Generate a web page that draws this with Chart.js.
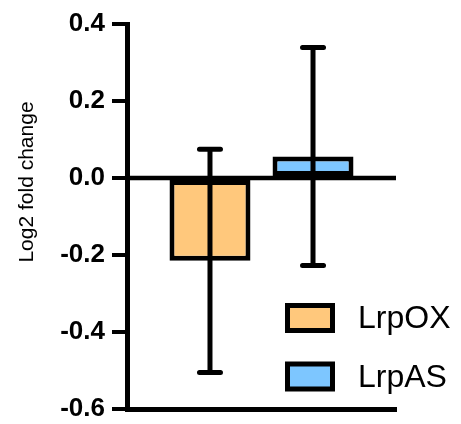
<!DOCTYPE html>
<html>
<head>
<meta charset="utf-8">
<script src="https://cdn.jsdelivr.net/npm/chart.js@4/dist/chart.umd.min.js"></script>
<style>
  html, body { margin: 0; padding: 0; background: #ffffff; }
  #wrap { width: 461px; height: 424px; }
</style>
</head>
<body>
<div id="wrap"><canvas id="c" width="461" height="424"></canvas></div>
<script>
// Groups, their mean log2 fold change and error (± SD)
const groups = ['LrpOX', 'LrpAS'];
const means = [-0.215, 0.056];
const errors = [0.29, 0.283];
const fills = ['#FFC87C', '#7DC6FF'];
const yTicks = [-0.6, -0.4, -0.2, 0.0, 0.2, 0.4];
const yTitle = 'Log2 fold change';

const FONT = '"Liberation Sans", Arial, Helvetica, sans-serif';

// Error bars, zero line, y title and legend drawn on top of the bars
const overlay = {
  id: 'overlay',
  afterDatasetsDraw(chart) {
    const { ctx, chartArea, scales: { y } } = chart;
    ctx.save();
    // zero line
    const y0 = y.getPixelForValue(0);
    ctx.strokeStyle = '#000';
    ctx.lineWidth = 4.5;
    ctx.lineCap = 'butt';
    ctx.beginPath();
    ctx.moveTo(chartArea.left, y0);
    ctx.lineTo(chartArea.right, y0);
    ctx.stroke();

    // error bars
    chart.data.datasets.forEach((ds, i) => {
      const bar = chart.getDatasetMeta(i).data[0];
      const x = bar.x;
      const hi = y.getPixelForValue(means[i] + errors[i]);
      const lo = y.getPixelForValue(means[i] - errors[i]);
      ctx.lineWidth = 5;
      ctx.lineCap = 'butt';
      ctx.beginPath();
      ctx.moveTo(x, hi);
      ctx.lineTo(x, lo);
      ctx.stroke();
      ctx.lineCap = 'round';
      const half = 10.5;
      ctx.beginPath();
      ctx.moveTo(x - half, hi); ctx.lineTo(x + half, hi);
      ctx.moveTo(x - half, lo); ctx.lineTo(x + half, lo);
      ctx.stroke();
    });
    ctx.restore();
  },
  afterDraw(chart) {
    const { ctx } = chart;
    ctx.save();
    // y axis title
    ctx.fillStyle = '#000';
    ctx.font = '21px ' + FONT;
    ctx.textAlign = 'center';
    ctx.textBaseline = 'middle';
    ctx.translate(27, 182);
    ctx.rotate(-Math.PI / 2);
    ctx.fillText(yTitle, 0, 0);
    ctx.restore();

    // legend
    ctx.save();
    chart.data.datasets.forEach((ds, i) => {
      const top = 303 + i * 58.5;
      const bw = 5;
      ctx.fillStyle = '#000';
      ctx.fillRect(285, top, 50, 30);
      ctx.fillStyle = ds.backgroundColor;
      ctx.fillRect(285 + bw, top + bw, 50 - 2 * bw, 30 - 2 * bw);
      ctx.fillStyle = '#000';
      ctx.font = '32px ' + FONT;
      ctx.textAlign = 'left';
      ctx.textBaseline = 'alphabetic';
      ctx.fillText(ds.label, 358, top + 25);
    });
    ctx.restore();
  }
};

new Chart(document.getElementById('c'), {
  type: 'bar',
  data: {
    labels: [''],
    datasets: groups.map((g, i) => ({
      label: g,
      data: [means[i]],
      backgroundColor: fills[i],
      borderColor: '#000',
      borderWidth: 5,
      borderSkipped: false,
      categoryPercentage: 0.766,
      barPercentage: 0.786
    }))
  },
  options: {
    responsive: false,
    animation: false,
    devicePixelRatio: 1,
    layout: { padding: { top: 24, right: 65, left: 0, bottom: 0 } },
    plugins: {
      legend: { display: false },
      tooltip: { enabled: false }
    },
    scales: {
      x: {
        grid: { display: false },
        ticks: { display: false },
        border: { display: true, color: '#000', width: 5 },
        afterFit(s) { s.height = 15; }
      },
      y: {
        min: -0.6,
        max: 0.4,
        afterBuildTicks(s) { s.ticks = yTicks.map(v => ({ value: v })); },
        grid: {
          drawOnChartArea: false,
          drawTicks: true,
          tickLength: 15,
          tickWidth: 4,
          lineWidth: 4,
          color: '#000'
        },
        border: { display: true, color: '#000', width: 5 },
        ticks: {
          padding: 7,
          color: '#000',
          font: { family: FONT, size: 26, weight: 'bold' },
          callback: v => v.toFixed(1)
        },
        afterFit(s) {
          s.width = 127;
          s.paddingTop = 0;
          s.paddingBottom = 0;
        }
      }
    }
  },
  plugins: [overlay]
});
</script>
</body>
</html>
